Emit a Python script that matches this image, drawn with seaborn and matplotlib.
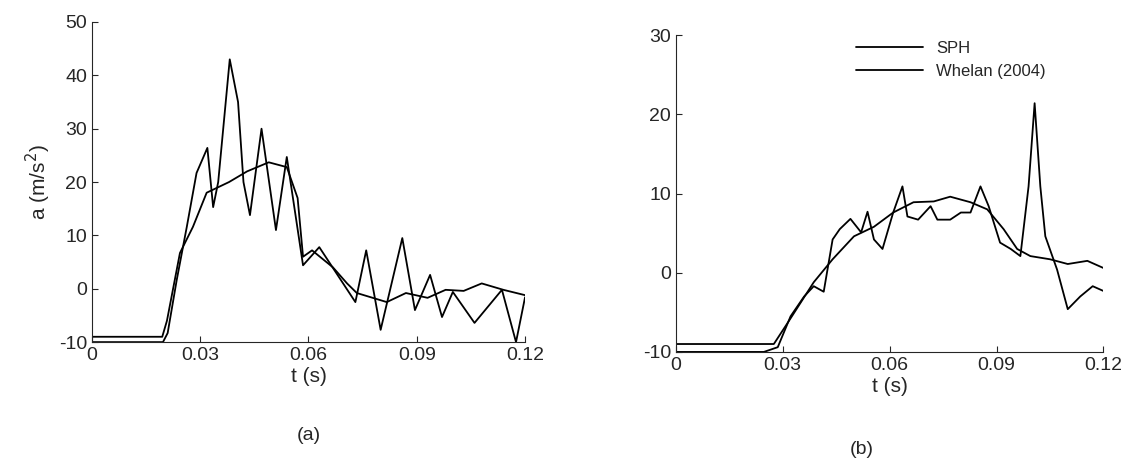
import matplotlib.pyplot as plt
import seaborn as sns
import numpy as np
import pandas as pd

sns.set_style("ticks")
plt.rcParams['font.family'] = ['Liberation Sans', 'DejaVu Sans']
plt.rcParams['axes.unicode_minus'] = False

# panel (a)
a_osc_t = [0, 0.0197, 0.021, 0.0235, 0.0263, 0.029, 0.032, 0.0336, 0.035, 0.0382, 0.0405, 0.042,
           0.0438, 0.047, 0.051, 0.054, 0.0585, 0.063, 0.073, 0.076, 0.080, 0.086, 0.0895, 0.0937,
           0.097, 0.100, 0.106, 0.1136, 0.1175, 0.12]
a_osc_v = [-10, -10, -8.3, 1.6, 11.6, 21.7, 26.4, 15.3, 20, 43, 35, 20,
           13.8, 30, 11, 24.7, 4.4, 7.8, -2.5, 7.2, -7.7, 9.5, -4, 2.6,
           -5.3, -0.6, -6.4, -0.2, -10, -1.6]
a_smooth_t = [0, 0.0195, 0.0208, 0.0244, 0.028, 0.0318, 0.038, 0.043, 0.049, 0.054, 0.057, 0.0585,
              0.061, 0.0668, 0.0707, 0.0734, 0.0817, 0.087, 0.093, 0.098, 0.103, 0.108, 0.114, 0.12]
a_smooth_v = [-9, -9, -6, 6.7, 11.6, 18, 20, 22, 23.7, 22.8, 17, 6,
              7.2, 4, 1, -0.8, -2.5, -0.8, -1.7, -0.2, -0.4, 1, -0.2, -1.2]

# panel (b)
b_sph_t = [0, 0.0247, 0.0286, 0.0322, 0.036, 0.0387, 0.0415, 0.044, 0.046, 0.049, 0.052, 0.0538,
           0.0556, 0.058, 0.061, 0.0636, 0.065, 0.068, 0.0715, 0.0734, 0.077, 0.08, 0.0827, 0.0855,
           0.0878, 0.091, 0.094, 0.0967, 0.099, 0.1007, 0.1023, 0.1037, 0.107, 0.110, 0.1135, 0.117, 0.12]
b_sph_v = [-10, -10, -9.4, -5.5, -3, -1.7, -2.4, 4.2, 5.5, 6.8, 5.1, 7.7,
           4.2, 3, 7.6, 10.9, 7.1, 6.7, 8.4, 6.7, 6.7, 7.6, 7.6, 10.9,
           8.4, 3.8, 3, 2.1, 10.9, 21.4, 10.9, 4.6, 0.4, -4.6, -3, -1.7, -2.3]
b_whelan_t = [0, 0.0275, 0.032, 0.0387, 0.044, 0.050, 0.0556, 0.061, 0.0667, 0.0724, 0.077, 0.0827,
              0.0874, 0.092, 0.0958, 0.0995, 0.105, 0.11, 0.1155, 0.12]
b_whelan_v = [-9, -9, -5.9, -1.2, 1.7, 4.6, 5.8, 7.6, 8.9, 9, 9.6, 8.9,
              8, 5.5, 3, 2.1, 1.7, 1.1, 1.5, 0.6]

xticks = [0, 0.03, 0.06, 0.09, 0.12]
xticklabels = ["0", "0.03", "0.06", "0.09", "0.12"]

fig = plt.figure(figsize=(11.34, 4.68), dpi=100)
ax1 = fig.add_axes([0.081, 0.269, 0.382, 0.684])
ax2 = fig.add_axes([0.596, 0.248, 0.377, 0.677])

sns.lineplot(x=a_osc_t, y=a_osc_v, ax=ax1, color="k", lw=1.3, estimator=None)
sns.lineplot(x=a_smooth_t, y=a_smooth_v, ax=ax1, color="k", lw=1.3, estimator=None)
sns.lineplot(x=b_sph_t, y=b_sph_v, ax=ax2, color="k", lw=1.3, estimator=None, label="SPH")
sns.lineplot(x=b_whelan_t, y=b_whelan_v, ax=ax2, color="k", lw=1.3, estimator=None, label="Whelan (2004)")

for ax, lim, yt in [(ax1, (-10, 50), range(-10, 51, 10)), (ax2, (-10, 30), range(-10, 31, 10))]:
    ax.set_xlim(0, 0.12)
    ax.set_ylim(*lim)
    ax.set_xticks(xticks)
    ax.set_xticklabels(xticklabels)
    ax.set_yticks(list(yt))
    ax.tick_params(labelsize=14, direction="in", length=4)
    ax.set_xlabel("t (s)", fontsize=15, labelpad=2)
    sns.despine(ax=ax)

ax1.set_ylabel("a (m/s$^2$)", fontsize=15)
ax2.legend(frameon=False, fontsize=12, loc="upper right", bbox_to_anchor=(0.9, 1.03), handlelength=4)

fig.text(0.272, 0.06, "(a)", fontsize=14, ha="center")
fig.text(0.76, 0.03, "(b)", fontsize=14, ha="center")

plt.savefig("out.png")
